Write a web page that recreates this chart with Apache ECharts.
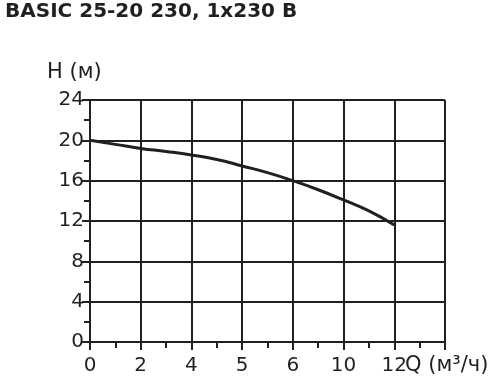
<!DOCTYPE html>
<html>
<head>
<meta charset="utf-8">
<script src="https://cdn.jsdelivr.net/npm/echarts@6/dist/echarts.min.js"></script>
<style>html,body{margin:0;padding:0;background:#fff}#c{width:496px;height:384px}</style>
</head>
<body>
<div id="c"></div>
<script>
// tick labels along Q axis (one per grid column, last column unlabeled)
var xTickLabels = ["0", "2", "4", "5", "6", "10", "12", ""];
// curve: position along the Q axis (grid column index) and head H (m)
var curvePos = [0, 0.5, 1, 1.5, 2, 2.5, 3, 3.5, 4, 4.5, 5, 5.5, 6];
var curveH   = [20, 19.6, 19.2, 18.9, 18.55, 18.1, 17.46, 16.8, 16.0, 15.1, 14.09, 13.0, 11.6];
var yMin = 0, yMax = 24, yStep = 4;

var dark = '#231f20';
var font = 'DejaVu Sans';
var chart = echarts.init(document.getElementById('c'), null, {renderer: 'canvas'});
chart.setOption({
  animation: false,
  backgroundColor: '#fff',
  grid: {left: 90, right: 51, top: 100, bottom: 42, containLabel: false},
  graphic: [
    {type: 'text', left: 5, top: 2, style: {text: 'BASIC 25-20 230, 1x230 В', font: 'bold 20px "DejaVu Sans"', fill: dark}},
    {type: 'text', left: 47, top: 62, style: {text: 'Н (м)', font: '21px "DejaVu Sans"', fill: dark}},
    {type: 'text', left: 405, top: 355, style: {text: 'Q (м³/ч)', font: '21px "DejaVu Sans"', fill: dark}}
  ],
  xAxis: {
    type: 'value', min: 0, max: xTickLabels.length - 1, interval: 1,
    axisLine: {show: true, onZero: false, lineStyle: {color: dark, width: 2}},
    axisTick: {show: true, length: 8, lineStyle: {color: dark, width: 2}},
    minorTick: {show: true, splitNumber: 2, length: 6, lineStyle: {color: dark, width: 2}},
    splitLine: {show: true, lineStyle: {color: dark, width: 2}},
    axisLabel: {
      color: dark, fontFamily: font, fontSize: 20, margin: 14,
      formatter: function (v) { return xTickLabels[Math.round(v)]; }
    }
  },
  yAxis: {
    type: 'value', min: yMin, max: yMax, interval: yStep,
    axisLine: {show: true, lineStyle: {color: dark, width: 2}},
    axisTick: {show: true, length: 8, lineStyle: {color: dark, width: 2}},
    minorTick: {show: true, splitNumber: 2, length: 6, lineStyle: {color: dark, width: 2}},
    splitLine: {show: true, lineStyle: {color: dark, width: 2}},
    axisLabel: {color: dark, fontFamily: font, fontSize: 20, margin: 6}
  },
  series: [{
    type: 'line', smooth: true, symbol: 'none',
    lineStyle: {color: dark, width: 3},
    data: curvePos.map(function (p, i) { return [p, curveH[i]]; })
  }]
});
</script>
</body>
</html>
